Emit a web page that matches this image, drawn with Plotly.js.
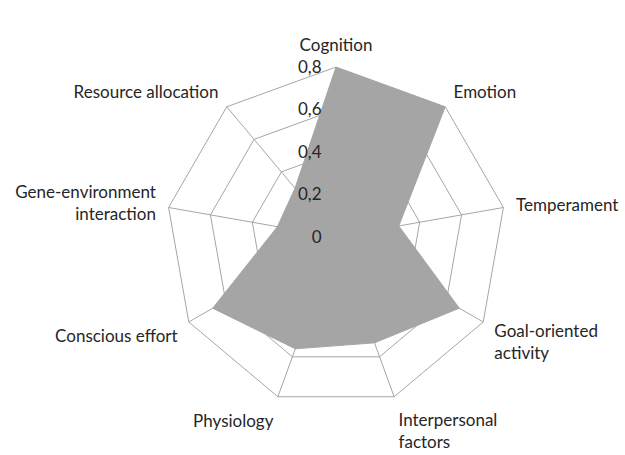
<!DOCTYPE html>
<html>
<head>
<meta charset="utf-8">
<script src="https://cdn.plot.ly/plotly-3.0.1.min.js"></script>
<style>html,body{margin:0;padding:0;background:#fff;}#chart{width:625px;height:455px;}</style>
</head>
<body>
<div id="chart"></div>
<script>
const categories = ["Cognition", "Emotion", "Temperament", "Goal-oriented<br>activity", "Interpersonal<br>factors", "Physiology", "Conscious effort", "Gene-environment<br>interaction", "Resource allocation"];
const values = [0.80, 0.80, 0.30, 0.67, 0.53, 0.56, 0.67, 0.28, 0.30];
const tickValues = [0, 0.2, 0.4, 0.6, 0.8];
const tickLabels = ["0", "0,2", "0,4", "0,6", "0,8"];

const trace = {
  type: "scatterpolar",
  r: values.concat([values[0]]),
  theta: categories.concat([categories[0]]),
  fill: "toself",
  fillcolor: "#a5a5a5",
  mode: "lines",
  line: {color: "#a5a5a5", width: 1},
  hoverinfo: "skip"
};

const layout = {
  width: 625, height: 455,
  margin: {l: 0, r: 0, t: 0, b: 0},
  paper_bgcolor: "#ffffff",
  showlegend: false,
  font: {family: "Lato, 'Open Sans', sans-serif", size: 17, color: "#262626"},
  polar: {
    domain: {x: [0.2656, 0.8096], y: [0.1055, 0.8527]},
    bgcolor: "#ffffff",
    gridshape: "linear",
    angularaxis: {
      direction: "clockwise",
      rotation: 90,
      showline: true,
      linecolor: "#a6a6a6",
      linewidth: 1,
      gridcolor: "#a6a6a6",
      gridwidth: 1,
      ticks: "outside",
      ticklen: 9,
      tickcolor: "rgba(0,0,0,0)",
      tickfont: {size: 17, color: "#262626"}
    },
    radialaxis: {
      range: [0, 0.8],
      angle: 90,
      tickangle: 90,
      side: "counterclockwise",
      tickvals: tickValues,
      ticktext: tickLabels,
      showline: false,
      ticks: "outside",
      ticklen: 8,
      tickcolor: "rgba(0,0,0,0)",
      gridcolor: "#a6a6a6",
      gridwidth: 1,
      tickfont: {size: 17, color: "#262626"},
      layer: "above traces"
    }
  }
};

Plotly.newPlot("chart", [trace], layout, {staticPlot: true});
</script>
</body>
</html>
